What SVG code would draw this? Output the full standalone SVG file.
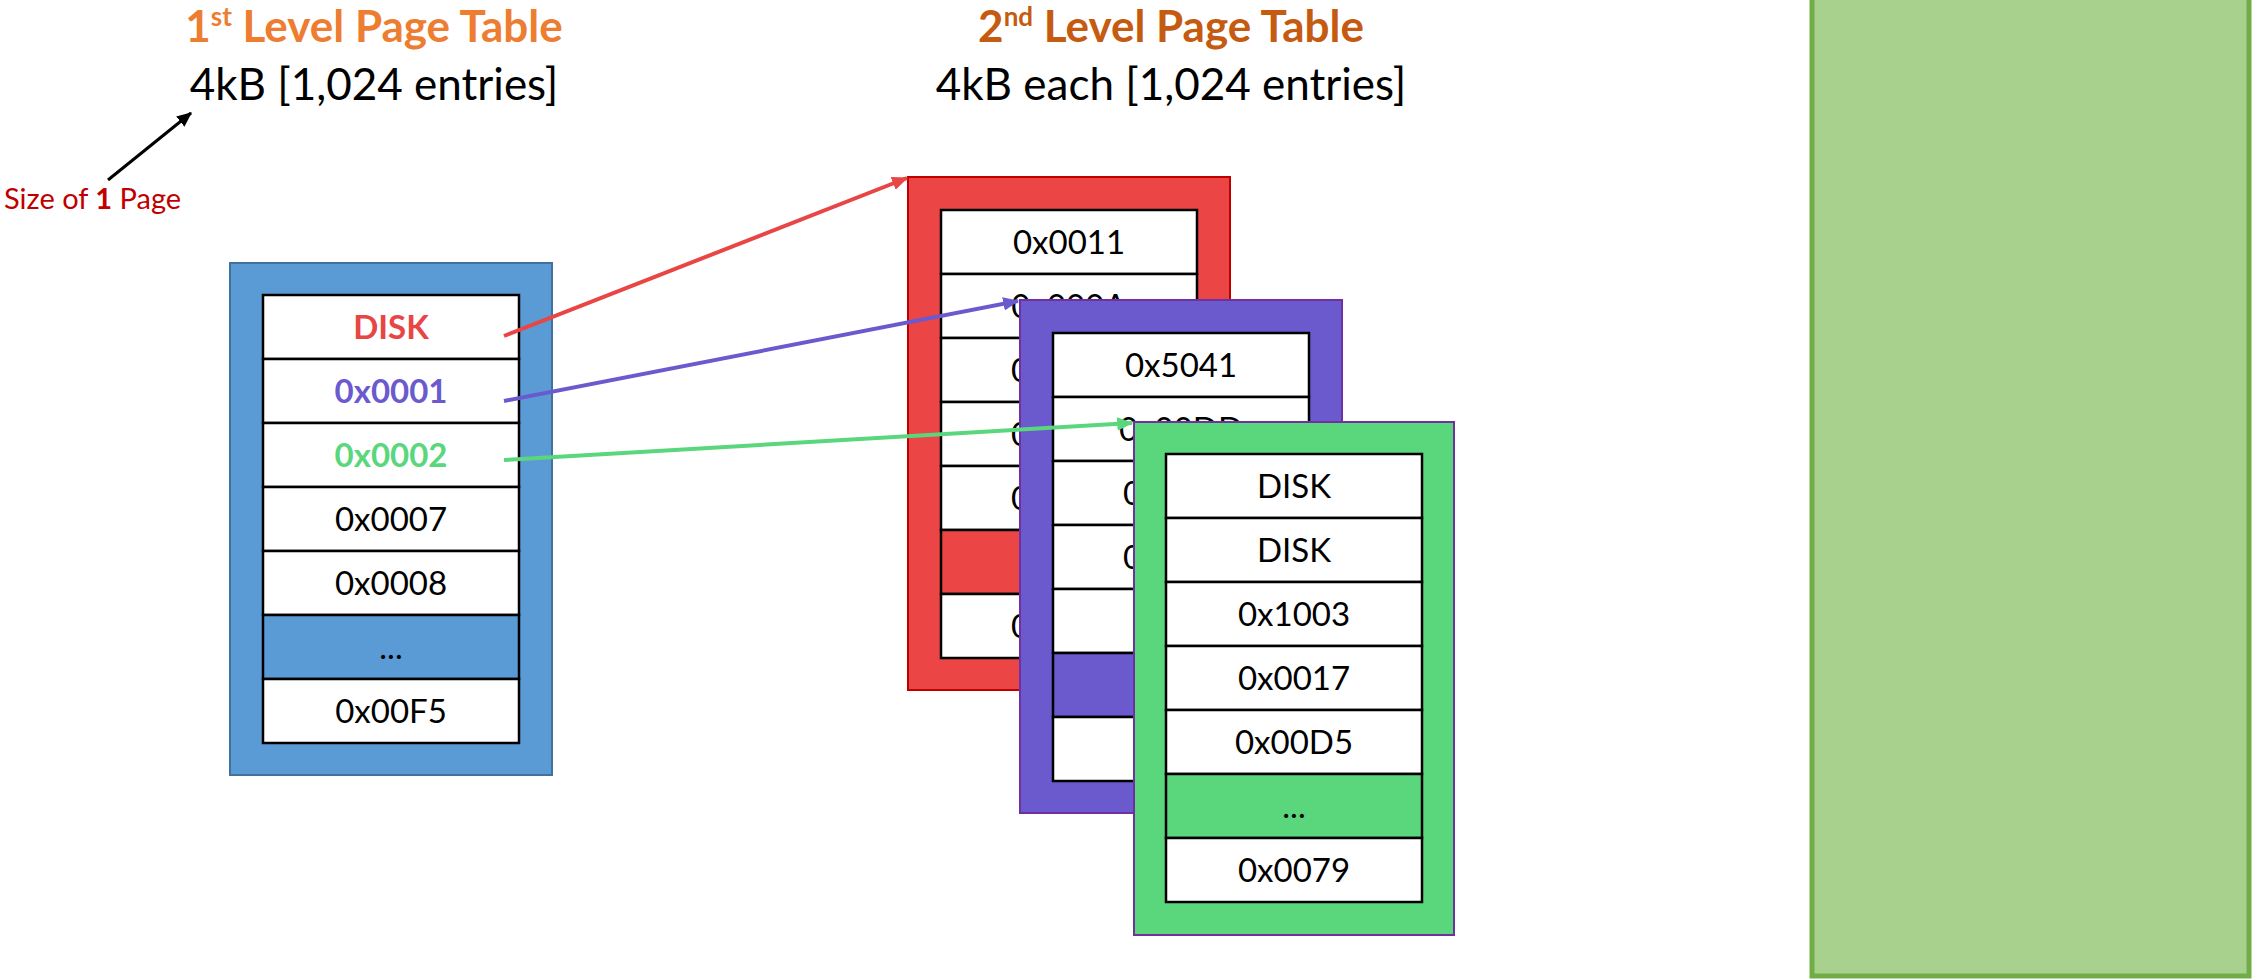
<svg xmlns="http://www.w3.org/2000/svg" width="2253" height="980" viewBox="0 0 2253 980">
<style>
text{font-family:Lato,"Liberation Sans",sans-serif}
.cell{fill:#fff;stroke:#000;stroke-width:2.5}
.t{font-size:33px;fill:#000;text-anchor:middle}
.ts{font-size:33px;fill:#000;text-anchor:start}
.b{font-weight:bold}
.title{font-size:44px;font-weight:bold;text-anchor:middle}
.sub{font-size:44px;fill:#000;text-anchor:middle}
.conn{fill:none;stroke-width:4}
</style>
<defs>
<marker id="ahR" markerWidth="4" markerHeight="3.4" refX="3.7" refY="1.7" orient="auto" markerUnits="strokeWidth"><path d="M0,0 L4,1.7 L0,3.4 z" fill="#E84545"/></marker>
<marker id="ahP" markerWidth="4" markerHeight="3.4" refX="3.7" refY="1.7" orient="auto" markerUnits="strokeWidth"><path d="M0,0 L4,1.7 L0,3.4 z" fill="#6A5ACD"/></marker>
<marker id="ahG" markerWidth="4" markerHeight="3.4" refX="3.7" refY="1.7" orient="auto" markerUnits="strokeWidth"><path d="M0,0 L4,1.7 L0,3.4 z" fill="#5AD67D"/></marker>
<marker id="ahK" markerWidth="5" markerHeight="4.4" refX="4.6" refY="2.2" orient="auto" markerUnits="strokeWidth"><path d="M0,0 L5,2.2 L0,4.4 z" fill="#000"/></marker>
</defs>

<g id="memory">
<rect x="1812" y="-10" width="437" height="986" fill="#A9D18E" stroke="#70AD47" stroke-width="5"/>
</g>

<g id="title1">
<text class="title" x="374" y="42" fill="#ED7D31">1<tspan font-size="26" dy="-16">st</tspan><tspan dy="16"> Level Page Table</tspan></text>
<text class="sub" x="374" y="100">4kB [1,024 entries]</text>
</g>

<g id="title2">
<text class="title" x="1171" y="42" fill="#C55A11">2<tspan font-size="26" dy="-16">nd</tspan><tspan dy="16"> Level Page Table</tspan></text>
<text class="sub" x="1171" y="100">4kB each [1,024 entries]</text>
</g>

<g id="pagesize">
<text x="4" y="209" font-size="29" fill="#C00000">Size of <tspan font-weight="bold">1</tspan> Page</text>
<line x1="108" y1="180" x2="191" y2="113" stroke="#000" stroke-width="3" marker-end="url(#ahK)"/>
</g>

<g id="table1">
<rect x="230" y="263" width="322" height="512" fill="#5B9BD5" stroke="#41719C" stroke-width="2"/>
<rect class="cell" x="263" y="295" width="256" height="64"/>
<rect class="cell" x="263" y="359" width="256" height="64"/>
<rect class="cell" x="263" y="423" width="256" height="64"/>
<rect class="cell" x="263" y="487" width="256" height="64"/>
<rect class="cell" x="263" y="551" width="256" height="64"/>
<rect class="cell" x="263" y="615" width="256" height="64" style="fill:#5B9BD5"/>
<rect class="cell" x="263" y="679" width="256" height="64"/>
<text class="t b" x="391" y="339" style="fill:#E84545">DISK</text>
<text class="t b" x="391" y="403" style="fill:#6A5ACD">0x0001</text>
<text class="t b" x="391" y="467" style="fill:#5AD67D">0x0002</text>
<text class="t" x="391" y="531">0x0007</text>
<text class="t" x="391" y="595">0x0008</text>
<text class="t" x="391" y="659">...</text>
<text class="t" x="391" y="723">0x00F5</text>
</g>

<g id="table2a">
<rect x="908" y="177" width="322" height="513" fill="#EB4545" stroke="#C00000" stroke-width="2"/>
<rect class="cell" x="941" y="210" width="256" height="64"/>
<rect class="cell" x="941" y="274" width="256" height="64"/>
<rect class="cell" x="941" y="338" width="256" height="64"/>
<rect class="cell" x="941" y="402" width="256" height="64"/>
<rect class="cell" x="941" y="466" width="256" height="64"/>
<rect class="cell" x="941" y="530" width="256" height="64" style="fill:#EB4545"/>
<rect class="cell" x="941" y="594" width="256" height="64"/>
<text class="t" x="1069" y="254">0x0011</text>
<text class="t" x="1069" y="318">0x000A</text>
<text class="ts" x="1011" y="382">0</text>
<text class="ts" x="1011" y="446">0</text>
<text class="ts" x="1011" y="510">0</text>
<text class="ts" x="1011" y="638">0</text>
</g>

<g id="table2b">
<rect x="1020" y="300" width="322" height="513" fill="#6A5ACD" stroke="#7030A0" stroke-width="2"/>
<rect class="cell" x="1053" y="333" width="256" height="64"/>
<rect class="cell" x="1053" y="397" width="256" height="64"/>
<rect class="cell" x="1053" y="461" width="256" height="64"/>
<rect class="cell" x="1053" y="525" width="256" height="64"/>
<rect class="cell" x="1053" y="589" width="256" height="64"/>
<rect class="cell" x="1053" y="653" width="256" height="64" style="fill:#6A5ACD"/>
<rect class="cell" x="1053" y="717" width="256" height="64"/>
<text class="t" x="1181" y="377">0x5041</text>
<text class="t" x="1181" y="441">0x00DD</text>
<text class="ts" x="1123" y="505">0</text>
<text class="ts" x="1123" y="569">0</text>
</g>

<g id="table2c">
<rect x="1134" y="422" width="320" height="513" fill="#5AD67D" stroke="#7030A0" stroke-width="2"/>
<rect class="cell" x="1166" y="454" width="256" height="64"/>
<rect class="cell" x="1166" y="518" width="256" height="64"/>
<rect class="cell" x="1166" y="582" width="256" height="64"/>
<rect class="cell" x="1166" y="646" width="256" height="64"/>
<rect class="cell" x="1166" y="710" width="256" height="64"/>
<rect class="cell" x="1166" y="774" width="256" height="64" style="fill:#5AD67D"/>
<rect class="cell" x="1166" y="838" width="256" height="64"/>
<text class="t" x="1294" y="498">DISK</text>
<text class="t" x="1294" y="562">DISK</text>
<text class="t" x="1294" y="626">0x1003</text>
<text class="t" x="1294" y="690">0x0017</text>
<text class="t" x="1294" y="754">0x00D5</text>
<text class="t" x="1294" y="818">...</text>
<text class="t" x="1294" y="882">0x0079</text>
</g>

<g id="connectors">
<line class="conn" x1="504" y1="336" x2="907" y2="178" stroke="#E84545" marker-end="url(#ahR)"/>
<line class="conn" x1="504" y1="401" x2="1018" y2="301" stroke="#6A5ACD" marker-end="url(#ahP)"/>
<line class="conn" x1="504" y1="460" x2="1132" y2="423" stroke="#5AD67D" marker-end="url(#ahG)"/>
</g>
</svg>
